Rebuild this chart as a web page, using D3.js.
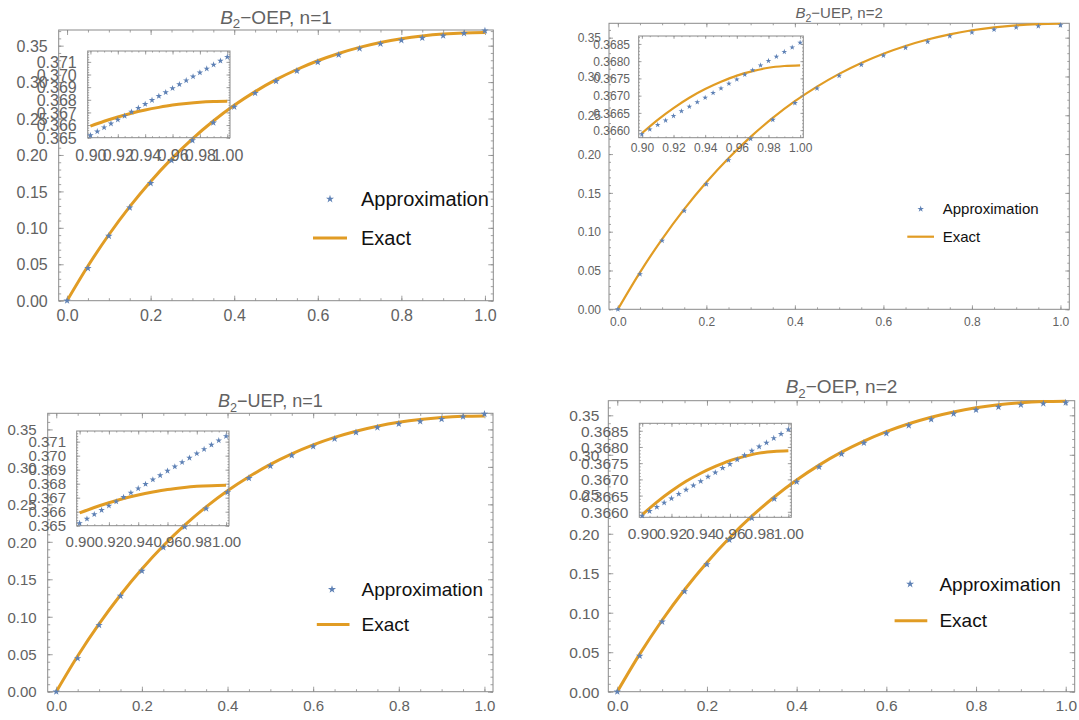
<!DOCTYPE html>
<html>
<head>
<meta charset="utf-8">
<script src="https://cdn.jsdelivr.net/npm/d3@7"></script>
<style>
  body { margin: 0; background: #fff; }
  svg { display: block; }
</style>
</head>
<body>
<svg id="chart" width="1079" height="720"></svg>
<script>
// ---- data ----
const xMain = [0, 0.05, 0.1, 0.15, 0.2, 0.25, 0.3, 0.35, 0.4, 0.45, 0.5,
               0.55, 0.6, 0.65, 0.7, 0.75, 0.8, 0.85, 0.9, 0.95, 1.0];
const exactMain = [0, 0.0476, 0.0905, 0.1291, 0.1637, 0.1947, 0.2222, 0.2466, 0.2681, 0.2869, 0.3033,
                   0.3173, 0.3293, 0.3393, 0.3476, 0.3543, 0.3595, 0.3633, 0.3659, 0.3674, 0.3679];
const approxMainN1 = [0, 0.0445, 0.0888, 0.1277, 0.1611, 0.1925, 0.2200, 0.2443, 0.2660, 0.2849, 0.3012,
                      0.3153, 0.3273, 0.3374, 0.3460, 0.3525, 0.3573, 0.3606, 0.3637, 0.3670, 0.3706];
const approxMainN2 = [0, 0.0453, 0.0885, 0.1270, 0.1612, 0.1922, 0.2198, 0.2442, 0.2657, 0.2846, 0.3010,
                      0.3150, 0.3270, 0.3370, 0.3448, 0.3520, 0.3568, 0.3605, 0.3632, 0.3648, 0.3660];

const xZoomExact = [0.90, 0.91, 0.92, 0.93, 0.94, 0.95, 0.96, 0.97, 0.98, 0.99, 1.00];
const exactZoom = [0.36591, 0.36630, 0.36664, 0.36694, 0.36719, 0.36740, 0.36758, 0.36771, 0.36781, 0.36786, 0.36788];

const xZoomApprox = [0.900, 0.905, 0.910, 0.915, 0.920, 0.925, 0.930, 0.935, 0.940, 0.945, 0.950,
                     0.955, 0.960, 0.965, 0.970, 0.975, 0.980, 0.985, 0.990, 0.995, 1.000];
const approxZoomN1 = [0.36518, 0.36549, 0.36581, 0.36611, 0.36642, 0.36672, 0.36704, 0.36735, 0.36766, 0.36797, 0.36829,
                      0.36859, 0.36891, 0.36922, 0.36953, 0.36984, 0.37015, 0.37046, 0.37077, 0.37108, 0.37139];
const approxZoomN2 = [0.36588, 0.36602, 0.36615, 0.36628, 0.36641, 0.36655, 0.36668, 0.36681, 0.36694, 0.36708, 0.36721,
                      0.36735, 0.36747, 0.36761, 0.36774, 0.36788, 0.36801, 0.36813, 0.36827, 0.36840, 0.36854];

const mainXTicks = [0, 0.2, 0.4, 0.6, 0.8, 1.0];
const mainYTicks = [0, 0.05, 0.10, 0.15, 0.20, 0.25, 0.30, 0.35];
const zoomXTicks = [0.90, 0.92, 0.94, 0.96, 0.98, 1.00];
const zoomYTicksN1 = [0.365, 0.366, 0.367, 0.368, 0.369, 0.370, 0.371];
const zoomYTicksN2 = [0.3660, 0.3665, 0.3670, 0.3675, 0.3680, 0.3685];

const legendLabels = ["Approximation", "Exact"];

// ---- layout of the four panels ----
const panels = [
  { method: "OEP", n: 1, box: [58.7, 493.3, 30, 300.7], yTop: 0.3715, font: 16, titleSize: 19, titleY: 23.5,
    xLabY: 14.3, yGap: 11, major: 5, minor: 2.5, lw: 3, star: 17,
    legend: { size: 20, starX: 330, line: [313, 347], textX: 361, y1: 199, y2: 238, star: 20 },
    inset: { box: [87.7, 230, 51, 137.7], yDom: [0.365, 0.37186], xLabY: 18, yGap: 11, star: 13 } },
  { method: "UEP", n: 2, box: [609, 1069.3, 23.3, 309.3], yTop: 0.3685, font: 12, titleSize: 15, titleY: 18.3,
    xLabY: 12.4, yGap: 8, major: 4, minor: 2, lw: 2.2, star: 11,
    legend: { size: 15, starX: 920.7, line: [907.3, 934], textX: 942.7, y1: 209, y2: 236.7, star: 13 },
    inset: { box: [638.7, 803.3, 36, 137.7], yDom: [0.36578, 0.36873], xLabY: 10.6, yGap: 8.7, star: 10 } },
  { method: "UEP", n: 1, box: [47.7, 493, 413.3, 691.7], yTop: 0.3715, font: 15, titleSize: 18, titleY: 407.3,
    xLabY: 14.3, yGap: 11, major: 5, minor: 2.5, lw: 3, star: 17,
    legend: { size: 19, starX: 332, line: [316.8, 349.5], textX: 361.5, y1: 589.4, y2: 624.4, star: 20 },
    inset: { box: [76.7, 229, 431, 525.7], yDom: [0.365, 0.37176], xLabY: 16, yGap: 10.7, star: 13 } },
  { method: "OEP", n: 2, box: [608.3, 1074.7, 400.7, 691.7], yTop: 0.3685, font: 15.5, titleSize: 19, titleY: 393.3,
    xLabY: 14.3, yGap: 9, major: 5, minor: 2.5, lw: 3, star: 17,
    legend: { size: 19, starX: 910.1, line: [894.6, 927.3], textX: 939.4, y1: 584, y2: 620.7, star: 20 },
    inset: { box: [639.3, 791.3, 423.3, 517.3], yDom: [0.36583, 0.36873], xLabY: 16, yGap: 11, star: 13 } }
];

const blue = "#5E81B5";
const orange = "#E19C24";
const frameColor = "#8a8a8a";
const labelColor = "#626262";
const fontFam = "'Liberation Sans', Arial, Helvetica, sans-serif";

const svg = d3.select("#chart");
svg.append("rect").attr("width", 1079).attr("height", 720).attr("fill", "#fff");

function inDomain(vals, dom) {
  return vals.filter(v => v >= dom[0] - 1e-9 && v <= dom[1] + 1e-9);
}

function drawFrame(g, x, y, o) {
  const [l, r] = x.range();
  const [b, t] = y.range();
  const blank = () => "";
  const put = (axis, tx, ty) => {
    const a = g.append("g").attr("transform", "translate(" + tx + "," + ty + ")").call(axis);
    a.select(".domain").remove();
    a.selectAll("line").attr("stroke", frameColor).attr("stroke-width", 0.8);
    a.selectAll("text")
      .attr("fill", labelColor)
      .attr("font-size", o.font)
      .attr("font-family", fontFam);
    return a;
  };

  // minor ticks on all four sides
  put(d3.axisBottom(x).tickValues(o.xMinor).tickSize(-o.minor).tickFormat(blank), 0, b);
  put(d3.axisTop(x).tickValues(o.xMinor).tickSize(-o.minor).tickFormat(blank), 0, t);
  put(d3.axisLeft(y).tickValues(o.yMinor).tickSize(-o.minor).tickFormat(blank), l, 0);
  put(d3.axisRight(y).tickValues(o.yMinor).tickSize(-o.minor).tickFormat(blank), r, 0);

  // major ticks, labels only bottom and left
  const bx = put(d3.axisBottom(x).tickValues(o.xMajor).tickSize(-o.major).tickFormat(o.xFmt), 0, b);
  bx.selectAll("text").attr("y", o.xLabY).attr("dy", "0.35em");
  put(d3.axisTop(x).tickValues(o.xMajor).tickSize(-o.major).tickFormat(blank), 0, t);
  put(d3.axisLeft(y).tickValues(o.yMajor).tickSize(-o.major).tickPadding(o.yGap).tickFormat(o.yFmt), l, 0)
    .selectAll("text").attr("dy", "0.35em");
  put(d3.axisRight(y).tickValues(o.yMajor).tickSize(-o.major).tickFormat(blank), r, 0);

  g.append("rect")
    .attr("x", l).attr("y", t)
    .attr("width", r - l).attr("height", b - t)
    .attr("fill", "none")
    .attr("stroke", frameColor)
    .attr("stroke-width", 1);
}

function drawSeries(g, x, y, xe, ye, xa, ya, lw, starSize) {
  const line = d3.line()
    .x((d, i) => x(xe[i]))
    .y(d => y(d))
    .curve(d3.curveMonotoneX);
  g.append("path")
    .attr("d", line(ye))
    .attr("fill", "none")
    .attr("stroke", orange)
    .attr("stroke-width", lw)
    .attr("stroke-linejoin", "round");

  const star = d3.symbol().type(d3.symbolStar).size(starSize);
  g.selectAll(null)
    .data(ya)
    .enter()
    .append("path")
    .attr("d", star)
    .attr("transform", (d, i) => "translate(" + x(xa[i]) + "," + y(d) + ")")
    .attr("fill", blue);
}

panels.forEach(p => {
  const g = svg.append("g");
  const [l, r, t, b] = p.box;
  const approxMain = p.n === 1 ? approxMainN1 : approxMainN2;
  const approxZoom = p.n === 1 ? approxZoomN1 : approxZoomN2;
  const zoomYTicks = p.n === 1 ? zoomYTicksN1 : zoomYTicksN2;

  // main plot
  const x = d3.scaleLinear().domain([-0.02, 1.02]).range([l, r]);
  const y = d3.scaleLinear().domain([0, p.yTop]).range([b, t]);

  drawFrame(g, x, y, {
    xMajor: mainXTicks, yMajor: mainYTicks,
    xMinor: d3.range(0, 21).map(i => i * 0.05),
    yMinor: inDomain(d3.range(0, 38).map(i => i * 0.01), y.domain()),
    xFmt: d3.format(".1f"), yFmt: d3.format(".2f"),
    major: p.major, minor: p.minor, font: p.font, xLabY: p.xLabY, yGap: p.yGap
  });

  drawSeries(g, x, y, xMain, exactMain, xMain, approxMain, p.lw, p.star);

  // inset zoom on [0.9, 1]
  const [il, ir, it, ib] = p.inset.box;
  const xi = d3.scaleLinear().domain([0.898, 1.002]).range([il, ir]);
  const yi = d3.scaleLinear().domain(p.inset.yDom).range([ib, it]);
  const yMinorStep = p.n === 1 ? 0.0002 : 0.0001;
  const y0 = Math.ceil(p.inset.yDom[0] / yMinorStep);
  const y1 = Math.floor(p.inset.yDom[1] / yMinorStep);

  drawFrame(g, xi, yi, {
    xMajor: zoomXTicks, yMajor: zoomYTicks,
    xMinor: d3.range(0, 21).map(i => 0.9 + i * 0.005),
    yMinor: d3.range(y0, y1 + 1).map(k => k * yMinorStep),
    xFmt: d3.format(".2f"), yFmt: d3.format(p.n === 1 ? ".3f" : ".4f"),
    major: p.major * 0.7, minor: p.minor * 0.6, font: p.font, xLabY: p.inset.xLabY, yGap: p.inset.yGap
  });

  drawSeries(g, xi, yi, xZoomExact, exactZoom, xZoomApprox, approxZoom, p.lw, p.inset.star);

  // title
  const title = g.append("text")
    .attr("x", (l + r) / 2)
    .attr("y", p.titleY)
    .attr("text-anchor", "middle")
    .attr("fill", labelColor)
    .attr("font-family", fontFam)
    .attr("font-size", p.titleSize);
  title.append("tspan").attr("font-style", "italic").text("B");
  title.append("tspan").attr("font-size", p.titleSize * 0.7).attr("dy", p.titleSize * 0.25).text("2");
  title.append("tspan").attr("dy", -p.titleSize * 0.25).text("\u2212" + p.method + ", n=" + p.n);

  // legend
  const lg = p.legend;
  g.append("path")
    .attr("d", d3.symbol().type(d3.symbolStar).size(lg.star))
    .attr("transform", "translate(" + lg.starX + "," + lg.y1 + ")")
    .attr("fill", blue);
  g.append("line")
    .attr("x1", lg.line[0]).attr("x2", lg.line[1])
    .attr("y1", lg.y2).attr("y2", lg.y2)
    .attr("stroke", orange)
    .attr("stroke-width", p.lw);
  [lg.y1, lg.y2].forEach((yy, i) => {
    g.append("text")
      .attr("x", lg.textX)
      .attr("y", yy)
      .attr("dy", "0.35em")
      .attr("fill", "#111")
      .attr("font-family", fontFam)
      .attr("font-size", lg.size)
      .text(legendLabels[i]);
  });
});
</script>
</body>
</html>
